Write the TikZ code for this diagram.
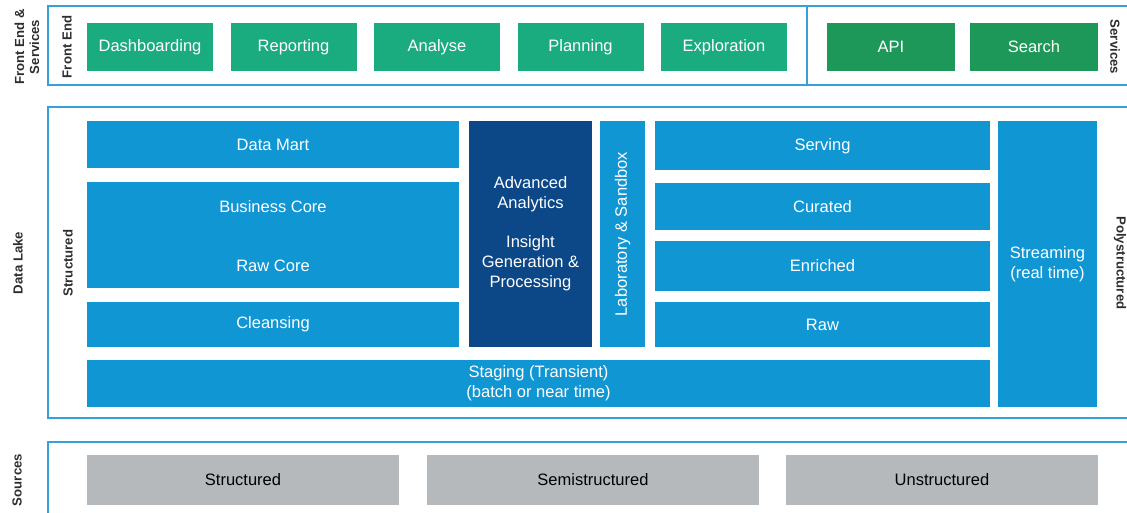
\documentclass[tikz,border=0pt]{standalone}
\usepackage{fontspec}
\setmainfont{Liberation Sans}

\definecolor{frontgreen}{RGB}{26,171,127}
\definecolor{servgreen}{RGB}{30,152,88}
\definecolor{lakeblue}{RGB}{17,150,212}
\definecolor{darkblue}{RGB}{12,72,136}
\definecolor{frameblue}{RGB}{52,160,220}
\definecolor{srcgray}{RGB}{182,185,188}
\definecolor{labelgray}{RGB}{45,45,45}

\begin{document}
\begin{tikzpicture}[
    every node/.style={font=\fontsize{9.4}{11.4}\selectfont, align=center, inner sep=0pt},
    layer/.style={rectangle, fill=lakeblue, text=white},
    frame/.style={draw=frameblue, line width=1.2pt},
    side/.style={font=\fontsize{7.5}{8.5}\selectfont\bfseries, text=labelgray}]

            \clip (0,0) rectangle (22.54,-10.26);

            % Frames, open to the right
            \draw[frame] (23,-0.12) -| (0.96,-1.70) -- (23,-1.70);
            \draw[frameblue, line width=0.8pt] (16.14,-0.12) -- (16.14,-1.70);
            \draw[frame] (23,-2.14) -| (0.96,-8.36) -- (23,-8.36);
            \draw[frame] (23,-8.84) -| (0.96,-11);

            % Front end and services
            \node[side, rotate=90] (feserv) at (0.54,-0.94) {Front End \&\\Services};
            \node[side, rotate=90] (fe) at (1.34,-0.94) {Front End};
            \node[side, rotate=-90] (serv) at (22.30,-0.94) {Services};

            \foreach \n/\t [count=\i from 0] in {dash/Dashboarding, rep/Reporting,
                    ana/Analyse, plan/Planning, expl/Exploration} {
                \node[fill=frontgreen, text=white, minimum width=2.52cm,
                    minimum height=0.96cm] (\n) at (3.0+2.87*\i,-0.94) {\t};
            }
            \foreach \n/\t/\x in {api/API/17.82, search/Search/20.68} {
                \node[fill=servgreen, text=white, minimum width=2.56cm,
                    minimum height=0.96cm] (\n) at (\x,-0.94) {\t};
            }

            % Data lake, structured side
            \node[side, rotate=90] (lake) at (0.36,-5.26) {Data Lake};
            \node[side, rotate=90] (struct) at (1.36,-5.26) {Structured};
            \node[side, rotate=-90] (poly) at (22.40,-5.26) {Polystructured};

            \node[layer, minimum width=7.44cm, minimum height=0.94cm] (mart) at (5.46,-2.89) {Data Mart};
            \node[layer, minimum width=7.44cm, minimum height=2.12cm] (core) at (5.46,-4.70) {};
            \node[text=white] (bcore) at (5.46,-4.14) {Business Core};
            \node[text=white] (rcore) at (5.46,-5.32) {Raw Core};
            \node[layer, minimum width=7.44cm, minimum height=0.90cm] (cleanse) at (5.46,-6.49) {Cleansing};

            \node[layer, fill=darkblue, minimum width=2.46cm, minimum height=4.52cm] (adv)
            at (10.61,-4.68) {Advanced\\Analytics\\[0.38cm]Insight\\Generation \&\\Processing};
            \node[layer, rotate=90, minimum width=4.52cm, minimum height=0.9cm] (lab)
            at (12.45,-4.68) {Laboratory \& Sandbox};

            % Polystructured side
            \foreach \n/\t/\y/\h in {serve/Serving/-2.92/0.98, cur/Curated/-4.13/0.94,
                    enr/Enriched/-5.32/1.0, raw/Raw/-6.49/0.9} {
                \node[layer, minimum width=6.70cm, minimum height=\h cm] (\n) at (16.45,\y) {\t};
            }
            \node[layer, minimum width=1.98cm, minimum height=5.72cm] (stream)
            at (20.95,-5.28) {Streaming\\(real time)};

            \node[layer, minimum width=18.06cm, minimum height=0.94cm] (staging)
            at (10.77,-7.67) {Staging (Transient)\\(batch or near time)};

            % Sources
            \node[side, rotate=90] (src) at (0.34,-9.6) {Sources};
            \foreach \n/\t/\x/\w in {srcstr/Structured/4.86/6.24,
                    srcsemi/Semistructured/11.86/6.64, srcun/Unstructured/18.84/6.24} {
                \node[fill=srcgray, text=black, minimum width=\w cm,
                    minimum height=1.0cm] (\n) at (\x,-9.6) {\t};
            }

        \end{tikzpicture}
\end{document}
